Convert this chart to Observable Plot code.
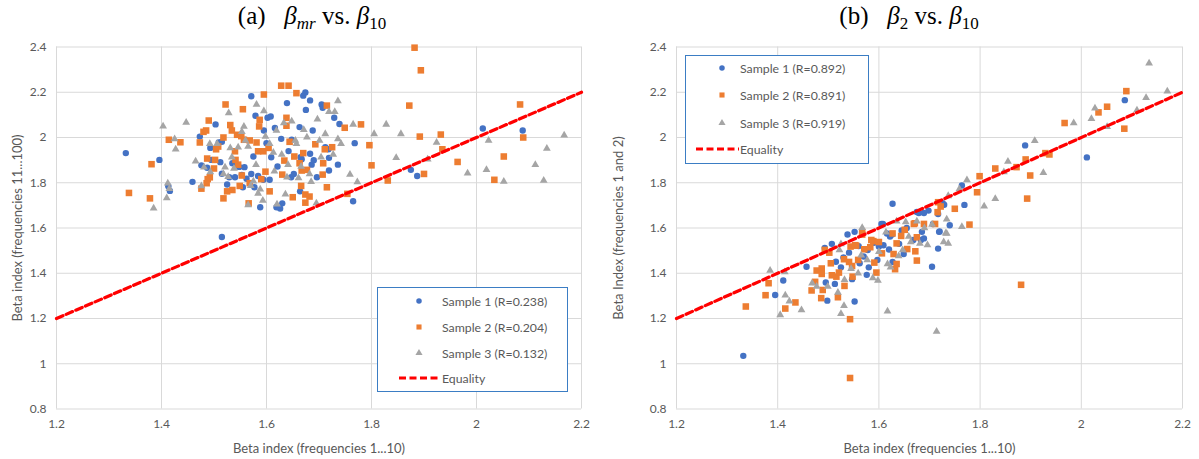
<!DOCTYPE html>
<html><head><meta charset="utf-8">
<script src="https://cdn.jsdelivr.net/npm/d3@7"></script>
<script src="https://cdn.jsdelivr.net/npm/@observablehq/plot@0.6"></script>
<style>
body{margin:0;background:#fff;}
#wrap{position:relative;width:1199px;height:459px;overflow:hidden;font-family:Lato,"Open Sans",sans-serif;}
.title{position:absolute;top:0px;font-family:"Liberation Serif","Times New Roman",serif;font-size:25px;color:#000;white-space:nowrap;transform:translateX(-50%);line-height:32px;}
.title sub{font-size:17px;vertical-align:-5px;line-height:0;}
.panel{position:absolute;top:0;}
.panel g[aria-label="x-axis label"] text, .panel g[aria-label="y-axis label"] text{font-size:13px;}
.legend{position:absolute;background:#fff;border:1px solid #3b7dc4;box-sizing:border-box;}
.legend .lbl{position:absolute;font-family:Lato,"Open Sans",sans-serif;font-size:12.3px;color:#595959;white-space:nowrap;transform:translateY(-50%);}
.legend svg{position:absolute;overflow:visible;}
</style>
</head><body>
<div id="wrap"></div>
<script>
// ---------- axes ----------
const xDomain = [1.2, 2.2];
const yDomain = [0.8, 2.4];
const xTicks = [1.2, 1.4, 1.6, 1.8, 2, 2.2];
const yTicks = [0.8, 1, 1.2, 1.4, 1.6, 1.8, 2, 2.2, 2.4];
const xLabel = "Beta index (frequencies 1...10)";
const yLabelA = "Beta index (frequencies 11...100)";
const yLabelB = "Beta Index (frequencies 1 and 2)";
const legendA = ["Sample 1 (R=0.238)", "Sample 2 (R=0.204)", "Sample 3 (R=0.132)", "Equality"];
const legendB = ["Sample 1 (R=0.892)", "Sample 2 (R=0.891)", "Sample 3 (R=0.919)", "Equality"];

// ---------- panel (a): beta_mr vs beta_10 ----------
const aS1 = [[1.332,1.931],[1.396,1.901],[1.413,1.785],[1.416,1.764],[1.459,1.804],[1.473,2.004],[1.476,1.877],[1.487,1.866],[1.493,1.954],[1.495,1.901],[1.503,2.058],[1.509,1.978],[1.515,1.981],[1.512,1.891],[1.515,1.560],[1.525,1.792],[1.529,1.824],[1.535,1.886],[1.540,1.824],[1.555,1.780],[1.558,1.869],[1.562,1.818],[1.571,2.182],[1.571,1.839],[1.575,1.916],[1.579,2.096],[1.577,1.780],[1.584,1.830],[1.588,1.692],[1.594,1.813],[1.595,2.031],[1.602,2.087],[1.606,1.813],[1.608,2.093],[1.609,1.913],[1.616,2.042],[1.619,1.692],[1.626,1.686],[1.630,1.709],[1.628,1.994],[1.621,1.872],[1.639,2.152],[1.647,1.824],[1.652,1.839],[1.648,1.990],[1.663,2.046],[1.664,1.762],[1.667,1.904],[1.670,2.185],[1.674,2.199],[1.675,2.122],[1.683,2.164],[1.683,1.928],[1.686,1.880],[1.688,2.031],[1.696,1.824],[1.705,2.146],[1.707,2.131],[1.712,1.957],[1.718,1.948],[1.719,1.910],[1.719,1.854],[1.729,2.087],[1.736,1.880],[1.739,2.060],[1.768,1.975],[1.765,1.718],[1.875,1.857],[1.887,1.830],[2.012,2.040],[2.088,2.031],[1.665,1.913],[1.548,1.870],[1.600,1.975],[1.642,1.940],[1.515,1.840],[1.553,1.835],[1.690,1.900]];
const aS2 = [[1.338,1.755],[1.378,1.731],[1.381,1.882],[1.414,1.990],[1.436,1.979],[1.473,1.978],[1.480,2.025],[1.485,2.031],[1.487,1.907],[1.490,2.075],[1.476,1.774],[1.486,1.798],[1.488,1.816],[1.492,1.824],[1.500,1.863],[1.502,1.901],[1.504,1.948],[1.508,1.960],[1.518,2.000],[1.522,2.146],[1.518,1.731],[1.525,1.762],[1.531,2.055],[1.534,2.031],[1.535,1.768],[1.540,1.939],[1.541,1.901],[1.544,2.012],[1.546,1.880],[1.549,1.786],[1.552,2.006],[1.553,1.832],[1.555,2.125],[1.557,1.990],[1.568,1.987],[1.568,1.798],[1.566,1.709],[1.581,1.978],[1.584,1.939],[1.586,2.049],[1.587,2.078],[1.590,1.816],[1.594,1.939],[1.595,2.190],[1.598,1.849],[1.604,1.954],[1.606,1.762],[1.628,2.229],[1.630,1.836],[1.634,1.898],[1.638,2.087],[1.638,2.052],[1.642,2.229],[1.644,1.981],[1.650,1.736],[1.653,1.916],[1.657,2.196],[1.663,1.886],[1.666,1.786],[1.667,1.854],[1.670,1.931],[1.674,1.748],[1.674,1.712],[1.677,1.857],[1.682,1.739],[1.693,1.970],[1.707,1.836],[1.708,1.886],[1.711,1.948],[1.715,2.141],[1.715,1.780],[1.725,1.957],[1.749,2.043],[1.754,1.751],[1.780,2.058],[1.796,1.966],[1.800,1.877],[1.831,1.810],[1.872,2.141],[1.882,2.397],[1.892,2.004],[1.894,2.297],[1.900,1.839],[1.932,2.013],[1.935,1.948],[1.964,1.892],[2.034,1.813],[2.052,1.916],[2.083,2.146],[2.089,2.000]];
const aS3 = [[1.385,1.687],[1.403,2.050],[1.410,1.733],[1.412,1.798],[1.415,1.774],[1.425,1.993],[1.427,1.948],[1.447,2.066],[1.465,1.895],[1.476,1.786],[1.481,1.869],[1.492,1.972],[1.493,1.848],[1.506,1.972],[1.518,1.839],[1.521,1.869],[1.527,1.827],[1.528,2.108],[1.531,1.954],[1.534,1.913],[1.538,1.863],[1.546,1.957],[1.553,2.025],[1.557,2.049],[1.560,1.987],[1.565,1.702],[1.565,1.960],[1.570,1.787],[1.575,1.807],[1.580,1.880],[1.581,2.146],[1.584,1.753],[1.588,1.771],[1.593,1.722],[1.595,2.117],[1.598,2.004],[1.606,1.972],[1.613,1.934],[1.615,1.851],[1.619,2.031],[1.620,1.705],[1.629,1.925],[1.633,2.064],[1.636,1.749],[1.639,1.824],[1.641,1.880],[1.648,2.072],[1.655,1.987],[1.657,1.972],[1.661,1.821],[1.666,1.872],[1.671,2.034],[1.677,2.001],[1.682,1.839],[1.685,1.804],[1.695,1.709],[1.697,2.081],[1.701,1.987],[1.704,1.913],[1.712,2.016],[1.719,2.114],[1.730,2.114],[1.736,2.161],[1.736,1.993],[1.727,1.925],[1.742,1.972],[1.759,1.836],[1.765,2.058],[1.773,1.803],[1.805,2.016],[1.828,2.058],[1.847,1.910],[1.856,2.016],[1.907,1.904],[1.924,1.978],[1.983,1.842],[2.019,1.857],[2.023,1.987],[2.052,1.805],[2.112,1.880],[2.128,1.810],[2.134,1.951],[2.167,2.010]];

// ---------- panel (b): beta_2 vs beta_10 ----------
const bS1 = [[1.627,1.707],[1.764,1.788],[1.769,1.702],[1.889,1.965],[2.011,1.912],[2.086,2.165],[1.726,1.710],[1.698,1.677],[1.717,1.662],[1.608,1.618],[1.740,1.612],[1.719,1.583],[1.685,1.583],[1.538,1.571],[1.552,1.583],[1.507,1.530],[1.493,1.512],[1.675,1.671],[1.605,1.618],[1.626,1.571],[1.645,1.589],[1.679,1.666],[1.689,1.666],[1.707,1.618],[1.729,1.703],[1.332,1.035],[1.411,1.368],[1.395,1.304],[1.457,1.429],[1.513,1.353],[1.495,1.359],[1.498,1.279],[1.515,1.451],[1.525,1.426],[1.552,1.275],[1.541,1.491],[1.547,1.374],[1.562,1.444],[1.570,1.474],[1.576,1.393],[1.580,1.426],[1.597,1.459],[1.600,1.518],[1.609,1.524],[1.616,1.576],[1.627,1.450],[1.649,1.485],[1.668,1.547],[1.683,1.547],[1.689,1.554],[1.705,1.429],[1.717,1.509],[1.720,1.585],[1.578,1.503],[1.622,1.562],[1.590,1.535],[1.560,1.520],[1.640,1.530],[1.655,1.600],[1.530,1.470],[1.620,1.505]];
const bS2 = [[1.717,1.714],[1.722,1.695],[1.716,1.670],[1.750,1.685],[1.779,1.615],[1.794,1.758],[1.799,1.829],[1.830,1.863],[1.872,1.869],[1.890,1.903],[1.899,1.832],[1.893,1.730],[1.929,1.931],[1.937,1.925],[1.967,2.064],[2.034,2.111],[2.051,2.136],[2.085,2.039],[2.089,2.205],[1.711,1.618],[1.669,1.618],[1.651,1.592],[1.567,1.571],[1.544,1.518],[1.555,1.522],[1.589,1.542],[1.671,1.621],[1.689,1.618],[1.337,1.253],[1.376,1.303],[1.382,1.356],[1.415,1.244],[1.435,1.271],[1.467,1.324],[1.474,1.362],[1.477,1.412],[1.486,1.290],[1.489,1.326],[1.487,1.421],[1.487,1.397],[1.493,1.503],[1.502,1.491],[1.505,1.444],[1.507,1.391],[1.516,1.385],[1.519,1.294],[1.521,1.403],[1.531,1.462],[1.532,1.344],[1.543,1.197],[1.543,0.937],[1.541,1.450],[1.547,1.432],[1.548,1.385],[1.553,1.524],[1.559,1.459],[1.567,1.582],[1.571,1.506],[1.583,1.515],[1.585,1.547],[1.591,1.447],[1.595,1.403],[1.600,1.538],[1.606,1.488],[1.627,1.576],[1.629,1.485],[1.635,1.532],[1.635,1.441],[1.632,1.418],[1.644,1.565],[1.656,1.507],[1.675,1.456],[1.672,1.497],[1.675,1.559],[1.881,1.349]];
const bS3 = [[1.774,1.812],[1.737,1.742],[1.759,1.772],[1.808,1.696],[1.830,1.729],[1.847,1.847],[1.855,1.894],[1.908,1.986],[1.925,1.844],[1.985,2.064],[2.020,2.083],[2.027,2.129],[2.051,2.047],[2.110,2.120],[2.128,2.176],[2.134,2.328],[2.170,2.204],[1.764,1.606],[1.734,1.639],[1.732,1.577],[1.567,1.601],[1.653,1.626],[1.614,1.581],[1.635,1.630],[1.675,1.630],[1.690,1.600],[1.705,1.615],[1.385,1.412],[1.405,1.216],[1.414,1.406],[1.415,1.303],[1.423,1.276],[1.447,1.238],[1.468,1.356],[1.477,1.341],[1.499,1.341],[1.525,1.221],[1.531,1.256],[1.519,1.315],[1.525,1.529],[1.522,1.503],[1.532,1.371],[1.559,1.400],[1.577,1.459],[1.588,1.379],[1.598,1.368],[1.617,1.232],[1.617,1.441],[1.623,1.426],[1.639,1.476],[1.647,1.503],[1.659,1.562],[1.663,1.538],[1.681,1.532],[1.696,1.525],[1.714,1.143],[1.728,1.538],[1.734,1.576],[1.737,1.532],[1.565,1.480],[1.600,1.495],[1.545,1.420]];

// ---------- styling ----------
const C1 = "#4472C4", C2 = "#ED7D31", C3 = "#A5A5A5", CEQ = "#FF0000";
const fmt = d => String(+d.toFixed(1));
const equality = xDomain.map(v => ({x: v, y: v}));

function panel(s1, s2, s3, o) {
  return Plot.plot({
    width: o.width, height: 459,
    marginTop: 46.5, marginBottom: 50.5, marginLeft: o.ml, marginRight: o.mr,
    style: {fontFamily: "Lato, 'Open Sans', sans-serif", fontSize: "12px", color: "#595959", background: "transparent", overflow: "visible"},
    x: {domain: xDomain, ticks: xTicks, tickSize: 0, tickPadding: 10, tickFormat: fmt, label: xLabel, labelAnchor: "center", labelOffset: 44, labelArrow: "none"},
    y: {domain: yDomain, ticks: yTicks, tickSize: 0, tickPadding: 10, tickFormat: fmt, label: o.yLabel, labelAnchor: "center", labelOffset: o.ylo, labelArrow: "none"},
    marks: [
      Plot.gridX(xTicks, {stroke: "#d9d9d9", strokeOpacity: 1, strokeWidth: 1}),
      Plot.gridY(yTicks, {stroke: "#d9d9d9", strokeOpacity: 1, strokeWidth: 1}),
      Plot.dot(s1, {x: d => d[0], y: d => d[1], r: 3.2, fill: C1, symbol: "circle"}),
      Plot.dot(s2, {x: d => d[0], y: d => d[1], r: 3.7, fill: C2, symbol: "square"}),
      Plot.dot(s3, {x: d => d[0], y: d => d[1], r: 2.9, fill: C3, symbol: "triangle"}),
      Plot.line(equality, {x: "x", y: "y", stroke: CEQ, strokeWidth: 3.2, strokeDasharray: "7,3.5"})
    ]
  });
}

const wrap = document.getElementById("wrap");

function addPanel(svg, left) {
  svg.classList.add("panel");
  svg.style.left = left + "px";
  wrap.appendChild(svg);
}
addPanel(panel(aS1, aS2, aS3, {width: 600, ml: 56, mr: 19, yLabel: yLabelA, ylo: 44}), 0);
addPanel(panel(bS1, bS2, bS3, {width: 599, ml: 76, mr: 17, yLabel: yLabelB, ylo: 63}), 600);

// titles
function addTitle(html, cx) {
  const d = document.createElement("div");
  d.className = "title";
  d.style.left = cx + "px";
  d.innerHTML = html;
  wrap.appendChild(d);
}
addTitle("(a)&nbsp;&nbsp; <i>β</i><sub><i>mr</i></sub> vs. <i>β</i><sub>10</sub>", 312);
addTitle("(b)&nbsp;&nbsp; <i>β</i><sub>2</sub> vs. <i>β</i><sub>10</sub>", 909);

// legends
const NS = "http://www.w3.org/2000/svg";
function addLegend(labels, g) {
  const box = document.createElement("div");
  box.className = "legend";
  Object.assign(box.style, {left: g.left + "px", top: g.top + "px", width: g.w + "px", height: g.h + "px"});
  const sw = document.createElementNS(NS, "svg");
  sw.setAttribute("width", g.w); sw.setAttribute("height", g.h);
  sw.style.left = "-1px"; sw.style.top = "-1px";
  const sym = [d3.symbolCircle, d3.symbolSquare, d3.symbolTriangle];
  const col = [C1, C2, C3];
  const sz = [24, 26, 22];
  labels.forEach((t, i) => {
    if (i < 3) {
      const p = document.createElementNS(NS, "path");
      p.setAttribute("d", d3.symbol(sym[i], sz[i])());
      p.setAttribute("fill", col[i]);
      p.setAttribute("transform", `translate(${g.mx},${g.rows[i]})`);
      sw.appendChild(p);
    } else {
      const l = document.createElementNS(NS, "line");
      l.setAttribute("x1", g.lx0); l.setAttribute("x2", g.tx - 1);
      l.setAttribute("y1", g.rows[i]); l.setAttribute("y2", g.rows[i]);
      l.setAttribute("stroke", CEQ); l.setAttribute("stroke-width", 3.2);
      l.setAttribute("stroke-dasharray", "7,3.5");
      sw.appendChild(l);
    }
    const s = document.createElement("div");
    s.className = "lbl";
    s.style.left = (g.tx - 1) + "px";
    s.style.top = (g.rows[i] - 1) + "px";
    s.textContent = t;
    box.appendChild(s);
  });
  box.appendChild(sw);
  wrap.appendChild(box);
}
addLegend(legendA, {left: 377, top: 287, w: 191, h: 105, mx: 42, tx: 65, lx0: 22, rows: [14, 40, 66, 91]});
addLegend(legendB, {left: 685, top: 55, w: 184, h: 109, mx: 37, tx: 55, lx0: 11, rows: [13, 40, 68, 94]});
</script>
</body></html>
